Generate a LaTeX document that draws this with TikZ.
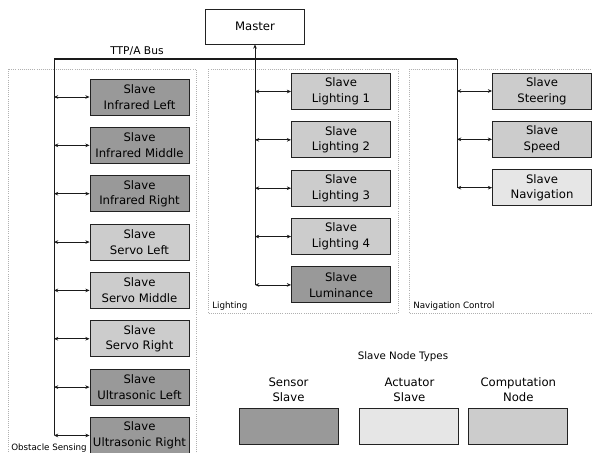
\documentclass[tikz,border=0pt]{standalone}
\usepackage{fontspec}
\setmainfont{DejaVu Sans}
\usetikzlibrary{positioning, arrows.meta}
\definecolor{fillSensor}{HTML}{999999}
\definecolor{fillActuator}{HTML}{E6E6E6}
\definecolor{fillCompute}{HTML}{CCCCCC}
\definecolor{borderSlave}{HTML}{222222}
\definecolor{groupLine}{HTML}{B0B0B0}
\definecolor{busColor}{HTML}{1A1A1A}
\tikzset{
  slavebox/.style={
    draw=borderSlave, line width=0.65pt,
    minimum width=2.475cm, minimum height=0.9cm, inner sep=1pt,
    font=\fontsize{8.3}{11.2}\selectfont, align=center,
  },
  sensorslave/.style={slavebox, fill=fillSensor},
  actuatorslave/.style={slavebox, fill=fillActuator},
  compnode/.style={slavebox, fill=fillCompute},
  masterbox/.style={
    draw=borderSlave, fill=white, line width=0.65pt,
    minimum width=2.475cm, minimum height=0.875cm,
    font=\fontsize{8.3}{11.2}\selectfont,
  },
  groupbox/.style={draw=groupLine, line width=0.4pt, dash pattern=on 0.6pt off 0.9pt},
  grouplabel/.style={anchor=base west, inner sep=0pt, font=\fontsize{6.2}{7.5}\selectfont},
  buswire/.style={draw=busColor, line width=0.6pt},
  busarrow/.style={
    {Stealth[length=3pt, width=2.6pt]}-{Stealth[length=3pt, width=2.6pt]},
    line width=0.55pt, color=busColor,
  },
}

\begin{document}
\begin{tikzpicture}[node distance=0.286cm]
  \useasboundingbox (0,0) rectangle (14.8,-11.325);

  % === Groups ===
  \draw[groupbox] (0.2,-1.725) rectangle (4.9,-11.6);
  \draw[groupbox] (5.2,-1.725) rectangle (9.95,-7.825);
  \draw[groupbox] (10.225,-1.725) rectangle (15.1,-7.825);
  \node[grouplabel] (obstlbl) at (0.275,-11.26) {Obstacle Sensing};
  \node[grouplabel] (lightlbl) at (5.3,-7.725) {Lighting};
  \node[grouplabel] (navlbl) at (10.325,-7.725) {Navigation Control};

  % === Master and bus ===
  \node[masterbox] (master) at (6.375,-0.6625) {Master};
  \coordinate (busL) at (1.35,-1.475);
  \coordinate (busR) at (11.425,-1.475);
  \node[anchor=base, inner sep=0pt, font=\fontsize{7.6}{9}\selectfont] (buslbl) at (3.425,-1.36) {TTP/A Bus};

  % === Obstacle sensing slaves ===
  \node[sensorslave] (irl) at (3.4875,-2.425) {Slave\\Infrared Left};
  \node[sensorslave, below=of irl] (irm) {Slave\\Infrared Middle};
  \node[sensorslave, below=of irm] (irr) {Slave\\Infrared Right};
  \node[compnode, below=of irr] (svl) {Slave\\Servo Left};
  \node[compnode, below=of svl] (svm) {Slave\\Servo Middle};
  \node[compnode, below=of svm] (svr) {Slave\\Servo Right};
  \node[sensorslave, below=of svr] (usl) {Slave\\Ultrasonic Left};
  \node[sensorslave, below=of usl] (usr) {Slave\\Ultrasonic Right};

  % === Lighting slaves ===
  \node[compnode] (lt1) at (8.525,-2.2875) {Slave\\Lighting 1};
  \node[compnode, below=of lt1] (lt2) {Slave\\Lighting 2};
  \node[compnode, below=of lt2] (lt3) {Slave\\Lighting 3};
  \node[compnode, below=of lt3] (lt4) {Slave\\Lighting 4};
  \node[sensorslave, below=of lt4] (lum) {Slave\\Luminance};

  % === Navigation slaves ===
  \node[compnode] (steer) at (13.55,-2.275) {Slave\\Steering};
  \node[compnode, below=of steer] (speed) {Slave\\Speed};
  \node[actuatorslave, below=of speed] (nav) {Slave\\Navigation};

  % === Bus wiring ===
  \draw[buswire, line width=0.95pt] (busL) -- (busR);
  \draw[buswire] (busL) -- (busL |- usr.west);
  \draw[buswire] (busR) -- (busR |- nav.west);
  \draw[buswire, -{Stealth[length=3pt, width=2.6pt]}] (master.south |- lum.west) -- (master.south);

  \foreach \n in {irl,irm,irr,svl,svm,svr,usl,usr}
    \draw[busarrow] (busL |- \n.west) -- (\n.west);
  \foreach \n in {lt1,lt2,lt3,lt4,lum}
    \draw[busarrow] (master.south |- \n.west) -- (\n.west);
  \foreach \n in {steer,speed,nav}
    \draw[busarrow] (busR |- \n.west) -- (\n.west);

  % === Legend ===
  \node[anchor=base, inner sep=0pt, font=\fontsize{7.3}{9}\selectfont] (legtitle) at (10.075,-8.98) {Slave Node Types};
  \node[sensorslave] (legsens) at (7.2125,-10.65) {};
  \node[actuatorslave, right=0.525cm of legsens] (legact) {};
  \node[compnode, right=0.225cm of legact] (legcomp) {};
  \node[above=0.13cm of legsens, inner sep=0pt, align=center, font=\fontsize{8.3}{11.2}\selectfont] (lblsens) {Sensor\\Slave};
  \node[above=0.13cm of legact, inner sep=0pt, align=center, font=\fontsize{8.3}{11.2}\selectfont] (lblact) {Actuator\\Slave};
  \node[above=0.13cm of legcomp, inner sep=0pt, align=center, font=\fontsize{8.3}{11.2}\selectfont] (lblcomp) {Computation\\Node};

\end{tikzpicture}
\end{document}
